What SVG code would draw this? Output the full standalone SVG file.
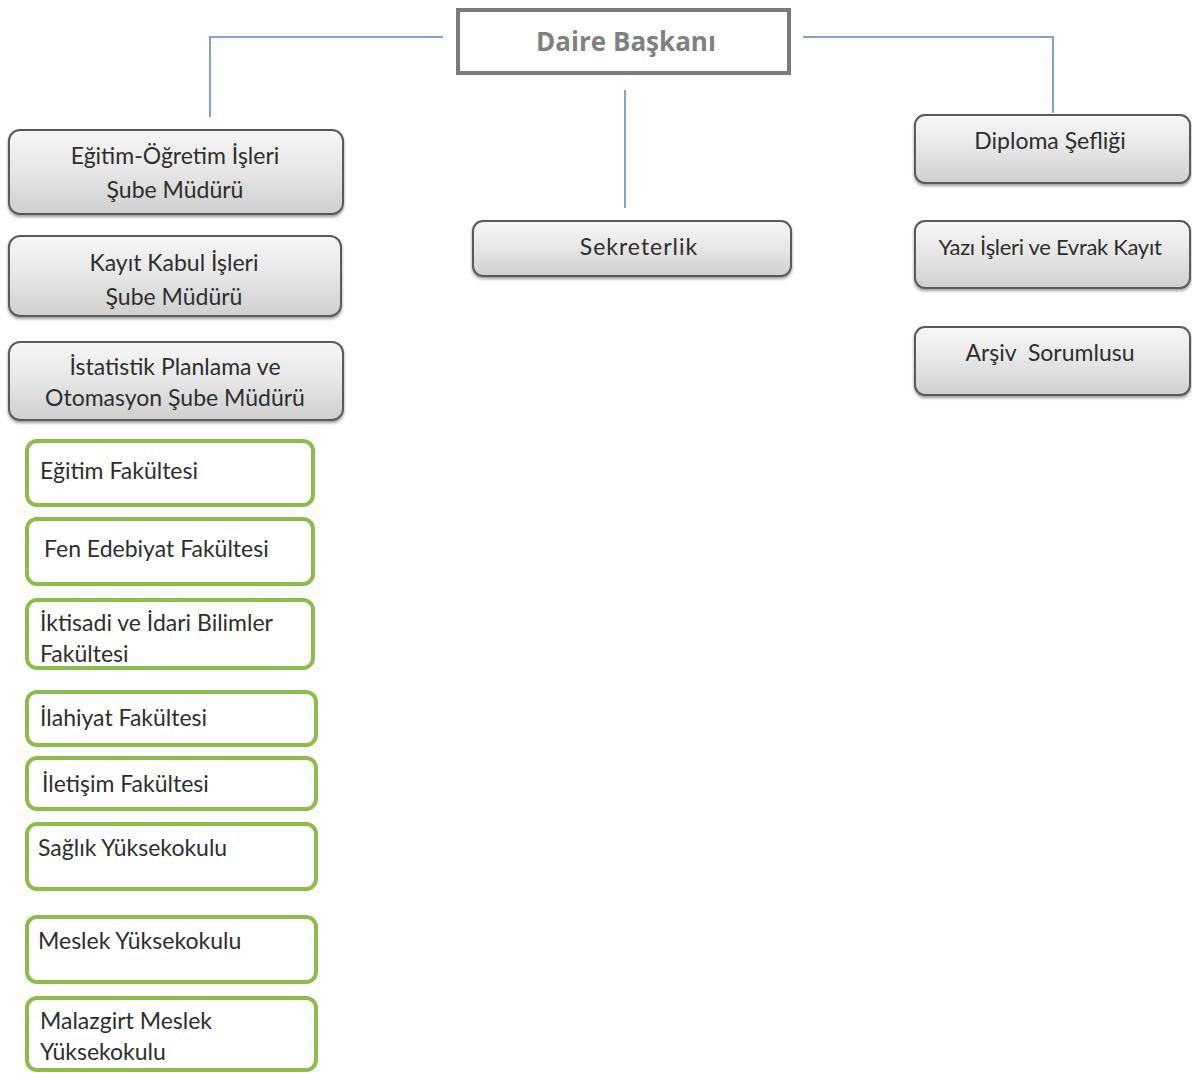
<svg xmlns="http://www.w3.org/2000/svg" width="1192" height="1073" viewBox="0 0 1192 1073">
<defs>
<linearGradient id="gg" x1="0" y1="0" x2="0" y2="1">
<stop offset="0" stop-color="#f7f7f7"/>
<stop offset="0.5" stop-color="#e6e6e6"/>
<stop offset="1" stop-color="#cfcfcf"/>
</linearGradient>
<filter id="sh" x="-5%" y="-10%" width="110%" height="130%">
<feGaussianBlur in="SourceAlpha" stdDeviation="1.5"/>
<feOffset dx="0" dy="2" result="b"/>
<feComponentTransfer><feFuncA type="linear" slope="0.4"/></feComponentTransfer>
<feMerge><feMergeNode/><feMergeNode in="SourceGraphic"/></feMerge>
</filter>
</defs>
<style>
.g{fill:url(#gg);stroke:#5a5a5a;stroke-width:2;filter:url(#sh)}
.gr{fill:#fff;stroke:#8cbd4a;stroke-width:4}
.t{font-family:Lato,"Liberation Sans",sans-serif;font-size:23px;fill:#2e2e2e}
.c{text-anchor:middle}
.s{font-family:Lato,"Liberation Sans",sans-serif;font-size:23px;fill:#2e2e2e}
.ln{fill:none;stroke:#7fa3cc;stroke-width:2}
</style>
<rect width="1192" height="1073" fill="#fff"/>
<g id="connectors">
<path class="ln" d="M443 37 H210 V117"/>
<path class="ln" d="M803 37 H1053 V113"/>
<path class="ln" d="M625 90 V208"/>
</g>
<g id="daire">
<rect x="458" y="10" width="331" height="63" fill="#fff" stroke="#7a7a7a" stroke-width="4"/>
<text x="626" y="51" class="c" style="font-family:'Open Sans','Liberation Sans',sans-serif;font-size:26px;font-weight:bold;fill:#808080">Daire Başkanı</text>
</g>
<g id="egitim-ogretim">
<rect class="g" x="9" y="130" width="334" height="84" rx="11"/>
<text class="t c" x="175" y="164">Eğitim-Öğretim İşleri</text>
<text class="t c" x="175" y="198">Şube Müdürü</text>
</g>
<g id="kayit-kabul">
<rect class="g" x="9" y="236" width="332" height="80" rx="11"/>
<text class="t c" x="174" y="271">Kayıt Kabul İşleri</text>
<text class="t c" x="174" y="305">Şube Müdürü</text>
</g>
<g id="istatistik">
<rect class="g" x="9" y="342" width="334" height="78" rx="11"/>
<text class="t c" x="175" y="375">İstatistik Planlama ve</text>
<text class="t c" x="175" y="406">Otomasyon Şube Müdürü</text>
</g>
<g id="sekreterlik">
<rect class="g" x="473" y="221" width="318" height="55" rx="10"/>
<text class="t c" x="639" y="255" style="letter-spacing:1px">Sekreterlik</text>
</g>
<g id="diploma">
<rect class="g" x="915" y="115" width="275" height="68" rx="10"/>
<text class="t c" x="1050" y="149">Diploma Şefliği</text>
</g>
<g id="yazi">
<rect class="g" x="915" y="221" width="275" height="67" rx="10"/>
<text class="t c" x="1050" y="255" style="font-size:22px;letter-spacing:-0.3px">Yazı İşleri ve Evrak Kayıt</text>
</g>
<g id="arsiv">
<rect class="g" x="915" y="327" width="275" height="68" rx="10"/>
<text class="t c" x="1050" y="361" style="white-space:pre">Arşiv  Sorumlusu</text>
</g>
<g id="egitim-fak">
<rect class="gr" x="27" y="441" width="286" height="64" rx="10"/>
<text class="s" x="40" y="479">Eğitim Fakültesi</text>
</g>
<g id="fen-edebiyat">
<rect class="gr" x="27" y="519" width="286" height="65" rx="10"/>
<text class="s" x="44" y="557">Fen Edebiyat Fakültesi</text>
</g>
<g id="iktisadi">
<rect class="gr" x="27" y="600" width="286" height="68" rx="10"/>
<text class="s" x="40" y="631">İktisadi ve İdari Bilimler</text>
<text class="s" x="40" y="662">Fakültesi</text>
</g>
<g id="ilahiyat">
<rect class="gr" x="27" y="692" width="289" height="53" rx="10"/>
<text class="s" x="40" y="726">İlahiyat Fakültesi</text>
</g>
<g id="iletisim">
<rect class="gr" x="27" y="758" width="289" height="51" rx="10"/>
<text class="s" x="42" y="792">İletişim Fakültesi</text>
</g>
<g id="saglik">
<rect class="gr" x="27" y="824" width="289" height="65" rx="10"/>
<text class="s" x="38" y="856">Sağlık Yüksekokulu</text>
</g>
<g id="meslek">
<rect class="gr" x="27" y="917" width="289" height="65" rx="10"/>
<text class="s" x="38" y="949">Meslek Yüksekokulu</text>
</g>
<g id="malazgirt">
<rect class="gr" x="27" y="998" width="289" height="72" rx="10"/>
<text class="s" x="40" y="1029">Malazgirt Meslek</text>
<text class="s" x="40" y="1060">Yüksekokulu</text>
</g>
</svg>
